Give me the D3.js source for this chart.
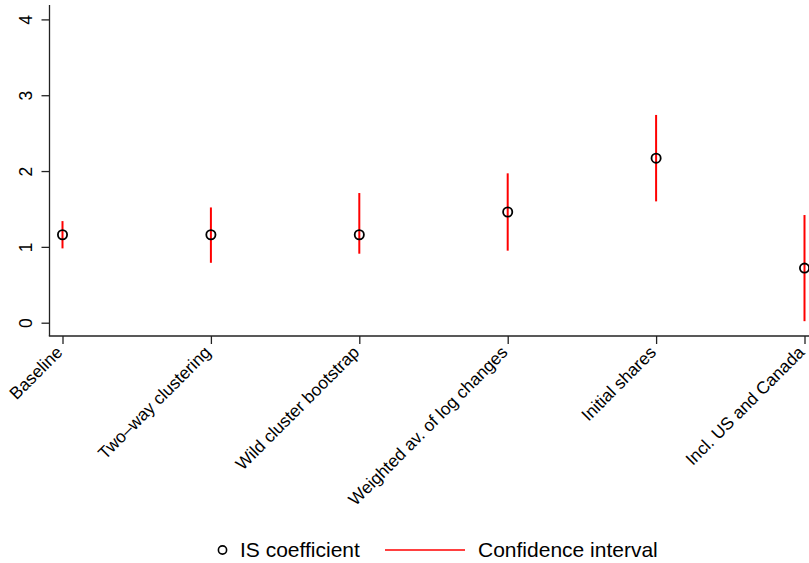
<!DOCTYPE html>
<html>
<head>
<meta charset="utf-8">
<script src="https://cdn.jsdelivr.net/npm/d3@7"></script>
<style>
  body { margin: 0; background: #fff; }
  svg { display: block; }
  text { font-family: Arial, "Liberation Sans", Helvetica, sans-serif; fill: #000; }
</style>
</head>
<body>
<svg id="chart" width="809" height="563"></svg>
<script>
const categories = ["Baseline", "Two\u2013way clustering", "Wild cluster bootstrap", "Weighted av. of log changes", "Initial shares", "Incl. US and Canada"];
const coefficient = [1.16, 1.16, 1.16, 1.46, 2.17, 0.72];
const ciLow  = [0.98, 0.79, 0.91, 0.95, 1.60, 0.02];
const ciHigh = [1.34, 1.52, 1.71, 1.97, 2.74, 1.42];
const yTicks = [0, 1, 2, 3, 4];
const legendLabels = ["IS coefficient", "Confidence interval"];

const svg = d3.select("#chart");
const W = 809, H = 563;
svg.append("rect").attr("width", W).attr("height", H).attr("fill", "#fff");

const axisX = 49.5, axisY = 336;
const y = d3.scaleLinear().domain([0, 4]).range([322.7, 19.4]);
const x = d3.scalePoint().domain(categories).range([62.5, 804.5]);

const axisColor = "#222";

// Y axis
const gy = svg.append("g").attr("transform", `translate(${axisX},0)`);
gy.call(d3.axisLeft(y).tickValues(yTicks).tickSize(8).tickSizeOuter(0).tickFormat(d3.format("d")));
gy.select(".domain").remove();
gy.selectAll(".tick line").attr("stroke", axisColor).attr("stroke-width", 1.3);
gy.selectAll(".tick text").remove();
gy.selectAll(".tick").append("text")
  .attr("transform", "translate(-17.5,0) rotate(-90)")
  .attr("text-anchor", "middle")
  .attr("font-size", 17.5)
  .text(d => d);
svg.append("line")
  .attr("x1", axisX).attr("x2", axisX)
  .attr("y1", 5).attr("y2", axisY)
  .attr("stroke", axisColor).attr("stroke-width", 1.3);

// X axis
const gx = svg.append("g").attr("transform", `translate(0,${axisY})`);
gx.call(d3.axisBottom(x).tickSize(8).tickSizeOuter(0));
gx.select(".domain").remove();
gx.selectAll(".tick line").attr("stroke", axisColor).attr("stroke-width", 1.3);
gx.selectAll(".tick text").remove();
gx.selectAll(".tick").append("text")
  .attr("transform", "translate(0.5,17.5) rotate(-45)")
  .attr("text-anchor", "end")
  .attr("font-size", 17.3)
  .text(d => d);
svg.append("line")
  .attr("x1", axisX - 0.65).attr("x2", W)
  .attr("y1", axisY).attr("y2", axisY)
  .attr("stroke", axisColor).attr("stroke-width", 1.3);

// CI lines
svg.append("g").selectAll("line").data(categories).join("line")
  .attr("x1", d => x(d)).attr("x2", d => x(d))
  .attr("y1", (d, i) => y(ciLow[i])).attr("y2", (d, i) => y(ciHigh[i]))
  .attr("stroke", "#ff0000").attr("stroke-width", 2);

// Points
svg.append("g").selectAll("circle").data(categories).join("circle")
  .attr("cx", d => x(d)).attr("cy", (d, i) => y(coefficient[i]))
  .attr("r", 4.6).attr("fill", "none").attr("stroke", "#000").attr("stroke-width", 1.8);

// Legend
const ly = 550;
const leg = svg.append("g");
leg.append("circle").attr("cx", 222.5).attr("cy", ly).attr("r", 4.1)
  .attr("fill", "none").attr("stroke", "#000").attr("stroke-width", 1.6);
leg.append("text").attr("x", 240).attr("y", ly).attr("dy", "0.35em")
  .attr("font-size", 21).text(legendLabels[0]);
leg.append("line").attr("x1", 385).attr("x2", 465).attr("y1", ly).attr("y2", ly)
  .attr("stroke", "#ff0000").attr("stroke-width", 1.6);
leg.append("text").attr("x", 478).attr("y", ly).attr("dy", "0.35em")
  .attr("font-size", 21).text(legendLabels[1]);
</script>
</body>
</html>
